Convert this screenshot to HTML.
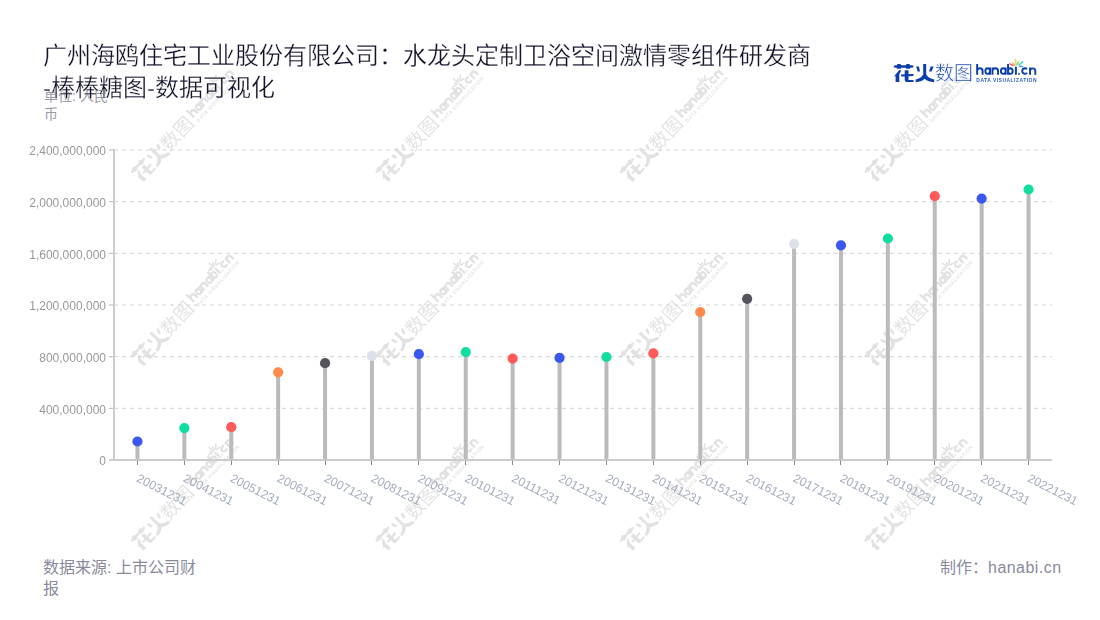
<!DOCTYPE html>
<html lang="zh-CN"><head><meta charset="utf-8">
<style>
html,body{margin:0;padding:0;background:#fff;}
body{width:1100px;height:620px;position:relative;overflow:hidden;font-family:"Liberation Sans",sans-serif;}
.t{position:absolute;white-space:nowrap;}
svg{position:absolute;left:0;top:0;}
</style></head><body>
<svg width="1100" height="620" viewBox="0 0 1100 620" style="font-family:'Liberation Sans',sans-serif">
<defs>
<g id="wm"><path d="M893.6,66.4 Q894,65.2 896,65.2 L911.5,65.2 Q913.5,65.2 913.5,66.4 Q913.5,67.7 911.5,67.7 L896,67.7 Q893.6,67.7 893.6,66.4Z" fill="#e2e2e2"/><path d="M897.3,63.9 L900.6,63.9 L901.1,68.8 L896.8,68.8Z" fill="#e2e2e2"/><path d="M906.3,63.9 L909.6,63.9 L910.1,68.8 L905.9,68.8Z" fill="#e2e2e2"/><path d="M899.3,70 L901.3,70.6 L899.3,74.3 L899.3,82 L895.6,82 L895.6,76 L893.8,76.8Z" fill="#e2e2e2"/><path d="M904.7,70.2 L908.5,70.2 L908.5,79.9 L913.5,79.9 L913.5,82 L906.7,82 Q904.7,82 904.7,80Z" fill="#e2e2e2"/><path d="M901.1,74.6 L913.5,74 L913.5,76.1 L901.1,76.6Z" fill="#e2e2e2"/><path d="M916.2,66.4 L918.9,66.4 L920,71.6 L917.6,71.6Z" fill="#e2e2e2"/><path d="M930.7,66.4 L933.6,66.4 L931.6,71.6 L929,71.6Z" fill="#e2e2e2"/><path d="M923.2,63.9 L926.2,63.9 L926.2,74.5 Q928.5,78.3 934.2,79.5 L934.2,82.2 Q928,82 924.7,78.8 Q921.3,82 915.6,82.2 L915.6,79.5 Q921,78.3 923.2,74.5Z" fill="#e2e2e2"/><text x="934.6" y="80.2" font-size="19" fill="#e4e4e4">数图</text><path d="M977.15,74.75 V64.1 M977.15,71 A2.72,2.72 0 0 1 982.6,71 V74.75 M990.05,67.5 V74.75 M990.05,71.07 A2.35,2.82 0 1 0 985.35,71.07 A2.35,2.82 0 1 0 990.05,71.07 M992.5,74.75 V67.5 M992.5,71.02 A2.77,2.77 0 0 1 998.05,71.02 V74.75 M1005.7,67.5 V74.75 M1005.7,71.07 A2.42,2.82 0 1 0 1000.85,71.07 A2.42,2.82 0 1 0 1005.7,71.07 M1008.05,64.1 V74.75 M1008.05,71.07 A2.3,2.82 0 1 1 1012.65,71.07 A2.3,2.82 0 1 1 1008.05,71.07 M1015.9,66.8 V74.75 M1027,69.2 A2.75,2.75 0 1 0 1027,72.9 M1030.05,74.75 V67.5 M1030.05,71.02 A2.62,2.62 0 0 1 1035.3,71.02 V74.75" fill="none" stroke="#e2e2e2" stroke-width="2.3"/><rect x="1018.1" y="73.2" width="1.7" height="1.55" fill="#e2e2e2"/><text x="976.3" y="81.5" font-size="5" font-weight="bold" fill="#e4e4e4" textLength="60.2" lengthAdjust="spacing">DATA VISUALIZATION</text><line x1="1009.9" y1="63.9" x2="1013" y2="65.5" stroke="#e2e2e2" stroke-width="1.6" stroke-linecap="round"/><line x1="1012.8" y1="63" x2="1014.8" y2="65.3" stroke="#e2e2e2" stroke-width="1.6" stroke-linecap="round"/><line x1="1015.5" y1="59.6" x2="1016" y2="64.1" stroke="#e2e2e2" stroke-width="1.6" stroke-linecap="round"/><line x1="1018.5" y1="61.9" x2="1016.9" y2="65" stroke="#e2e2e2" stroke-width="1.6" stroke-linecap="round"/><line x1="1022.7" y1="61.9" x2="1018.9" y2="65" stroke="#e2e2e2" stroke-width="1.6" stroke-linecap="round"/><line x1="1022.5" y1="66.6" x2="1019.4" y2="66.2" stroke="#e2e2e2" stroke-width="1.6" stroke-linecap="round"/></g>
</defs>
<filter id="bl" x="-5%" y="-5%" width="110%" height="110%"><feGaussianBlur stdDeviation="0.45"/></filter><g filter="url(#bl)"><use href="#wm" transform="translate(142.50,183.50) rotate(-47) translate(-893.6,-82)"/><use href="#wm" transform="translate(387.00,183.50) rotate(-47) translate(-893.6,-82)"/><use href="#wm" transform="translate(631.50,183.50) rotate(-47) translate(-893.6,-82)"/><use href="#wm" transform="translate(876.00,183.50) rotate(-47) translate(-893.6,-82)"/><use href="#wm" transform="translate(142.50,367.80) rotate(-47) translate(-893.6,-82)"/><use href="#wm" transform="translate(387.00,367.80) rotate(-47) translate(-893.6,-82)"/><use href="#wm" transform="translate(631.50,367.80) rotate(-47) translate(-893.6,-82)"/><use href="#wm" transform="translate(876.00,367.80) rotate(-47) translate(-893.6,-82)"/><use href="#wm" transform="translate(142.50,552.10) rotate(-47) translate(-893.6,-82)"/><use href="#wm" transform="translate(387.00,552.10) rotate(-47) translate(-893.6,-82)"/><use href="#wm" transform="translate(631.50,552.10) rotate(-47) translate(-893.6,-82)"/><use href="#wm" transform="translate(876.00,552.10) rotate(-47) translate(-893.6,-82)"/></g>
<g><line x1="114" y1="408.33" x2="1052" y2="408.33" stroke="#d4d4d4" stroke-width="1" stroke-dasharray="4 4"/><line x1="109" y1="408.33" x2="114" y2="408.33" stroke="#b8b8b8" stroke-width="1"/><line x1="114" y1="356.67" x2="1052" y2="356.67" stroke="#d4d4d4" stroke-width="1" stroke-dasharray="4 4"/><line x1="109" y1="356.67" x2="114" y2="356.67" stroke="#b8b8b8" stroke-width="1"/><line x1="114" y1="305.0" x2="1052" y2="305.0" stroke="#d4d4d4" stroke-width="1" stroke-dasharray="4 4"/><line x1="109" y1="305.0" x2="114" y2="305.0" stroke="#b8b8b8" stroke-width="1"/><line x1="114" y1="253.33" x2="1052" y2="253.33" stroke="#d4d4d4" stroke-width="1" stroke-dasharray="4 4"/><line x1="109" y1="253.33" x2="114" y2="253.33" stroke="#b8b8b8" stroke-width="1"/><line x1="114" y1="201.67" x2="1052" y2="201.67" stroke="#d4d4d4" stroke-width="1" stroke-dasharray="4 4"/><line x1="109" y1="201.67" x2="114" y2="201.67" stroke="#b8b8b8" stroke-width="1"/><line x1="114" y1="150.0" x2="1052" y2="150.0" stroke="#d4d4d4" stroke-width="1" stroke-dasharray="4 4"/><line x1="109" y1="150.0" x2="114" y2="150.0" stroke="#b8b8b8" stroke-width="1"/></g>
<line x1="114" y1="149" x2="114" y2="461" stroke="#cccccc" stroke-width="2"/>
<line x1="109" y1="460" x2="1052" y2="460" stroke="#cccccc" stroke-width="2"/>
<g fill="#999" font-size="12"><text x="106" y="465.20" text-anchor="end">0</text><text x="106" y="413.53" text-anchor="end">400,000,000</text><text x="106" y="361.87" text-anchor="end">800,000,000</text><text x="106" y="310.20" text-anchor="end">1,200,000,000</text><text x="106" y="258.53" text-anchor="end">1,600,000,000</text><text x="106" y="206.87" text-anchor="end">2,000,000,000</text><text x="106" y="155.20" text-anchor="end">2,400,000,000</text></g>
<g><line x1="137.45" y1="441.50" x2="137.45" y2="459" stroke="#bbbbbb" stroke-width="4"/><line x1="184.35" y1="428.10" x2="184.35" y2="459" stroke="#bbbbbb" stroke-width="4"/><line x1="231.25" y1="427.20" x2="231.25" y2="459" stroke="#bbbbbb" stroke-width="4"/><line x1="278.15" y1="372.35" x2="278.15" y2="459" stroke="#bbbbbb" stroke-width="4"/><line x1="325.05" y1="363.20" x2="325.05" y2="459" stroke="#bbbbbb" stroke-width="4"/><line x1="371.95" y1="355.90" x2="371.95" y2="459" stroke="#bbbbbb" stroke-width="4"/><line x1="418.85" y1="354.20" x2="418.85" y2="459" stroke="#bbbbbb" stroke-width="4"/><line x1="465.75" y1="352.10" x2="465.75" y2="459" stroke="#bbbbbb" stroke-width="4"/><line x1="512.65" y1="358.60" x2="512.65" y2="459" stroke="#bbbbbb" stroke-width="4"/><line x1="559.55" y1="357.90" x2="559.55" y2="459" stroke="#bbbbbb" stroke-width="4"/><line x1="606.45" y1="357.00" x2="606.45" y2="459" stroke="#bbbbbb" stroke-width="4"/><line x1="653.35" y1="353.40" x2="653.35" y2="459" stroke="#bbbbbb" stroke-width="4"/><line x1="700.25" y1="312.10" x2="700.25" y2="459" stroke="#bbbbbb" stroke-width="4"/><line x1="747.15" y1="298.80" x2="747.15" y2="459" stroke="#bbbbbb" stroke-width="4"/><line x1="794.05" y1="243.80" x2="794.05" y2="459" stroke="#bbbbbb" stroke-width="4"/><line x1="840.95" y1="245.30" x2="840.95" y2="459" stroke="#bbbbbb" stroke-width="4"/><line x1="887.85" y1="238.50" x2="887.85" y2="459" stroke="#bbbbbb" stroke-width="4"/><line x1="934.75" y1="196.20" x2="934.75" y2="459" stroke="#bbbbbb" stroke-width="4"/><line x1="981.65" y1="198.60" x2="981.65" y2="459" stroke="#bbbbbb" stroke-width="4"/><line x1="1028.55" y1="189.50" x2="1028.55" y2="459" stroke="#bbbbbb" stroke-width="4"/></g>
<g><circle cx="137.45" cy="441.50" r="5.1" fill="#3a57ee"/><circle cx="184.35" cy="428.10" r="5.1" fill="#10dea0"/><circle cx="231.25" cy="427.20" r="5.1" fill="#ff5a5a"/><circle cx="278.15" cy="372.35" r="5.1" fill="#ff8a4c"/><circle cx="325.05" cy="363.20" r="5.1" fill="#54545e"/><circle cx="371.95" cy="355.90" r="5.1" fill="#dde1ea"/><circle cx="418.85" cy="354.20" r="5.1" fill="#3a57ee"/><circle cx="465.75" cy="352.10" r="5.1" fill="#10dea0"/><circle cx="512.65" cy="358.60" r="5.1" fill="#ff5a5a"/><circle cx="559.55" cy="357.90" r="5.1" fill="#3a57ee"/><circle cx="606.45" cy="357.00" r="5.1" fill="#10dea0"/><circle cx="653.35" cy="353.40" r="5.1" fill="#ff5a5a"/><circle cx="700.25" cy="312.10" r="5.1" fill="#ff8a4c"/><circle cx="747.15" cy="298.80" r="5.1" fill="#54545e"/><circle cx="794.05" cy="243.80" r="5.1" fill="#dde1ea"/><circle cx="840.95" cy="245.30" r="5.1" fill="#3a57ee"/><circle cx="887.85" cy="238.50" r="5.1" fill="#10dea0"/><circle cx="934.75" cy="196.20" r="5.1" fill="#ff5a5a"/><circle cx="981.65" cy="198.60" r="5.1" fill="#3a57ee"/><circle cx="1028.55" cy="189.50" r="5.1" fill="#10dea0"/></g>
<g><line x1="137.5" y1="460.5" x2="137.5" y2="465" stroke="#8a8a8a" stroke-width="1"/><line x1="184.5" y1="460.5" x2="184.5" y2="465" stroke="#8a8a8a" stroke-width="1"/><line x1="231.5" y1="460.5" x2="231.5" y2="465" stroke="#8a8a8a" stroke-width="1"/><line x1="278.5" y1="460.5" x2="278.5" y2="465" stroke="#8a8a8a" stroke-width="1"/><line x1="325.5" y1="460.5" x2="325.5" y2="465" stroke="#8a8a8a" stroke-width="1"/><line x1="371.5" y1="460.5" x2="371.5" y2="465" stroke="#8a8a8a" stroke-width="1"/><line x1="418.5" y1="460.5" x2="418.5" y2="465" stroke="#8a8a8a" stroke-width="1"/><line x1="465.5" y1="460.5" x2="465.5" y2="465" stroke="#8a8a8a" stroke-width="1"/><line x1="512.5" y1="460.5" x2="512.5" y2="465" stroke="#8a8a8a" stroke-width="1"/><line x1="559.5" y1="460.5" x2="559.5" y2="465" stroke="#8a8a8a" stroke-width="1"/><line x1="606.5" y1="460.5" x2="606.5" y2="465" stroke="#8a8a8a" stroke-width="1"/><line x1="653.5" y1="460.5" x2="653.5" y2="465" stroke="#8a8a8a" stroke-width="1"/><line x1="700.5" y1="460.5" x2="700.5" y2="465" stroke="#8a8a8a" stroke-width="1"/><line x1="747.5" y1="460.5" x2="747.5" y2="465" stroke="#8a8a8a" stroke-width="1"/><line x1="794.5" y1="460.5" x2="794.5" y2="465" stroke="#8a8a8a" stroke-width="1"/><line x1="840.5" y1="460.5" x2="840.5" y2="465" stroke="#8a8a8a" stroke-width="1"/><line x1="887.5" y1="460.5" x2="887.5" y2="465" stroke="#8a8a8a" stroke-width="1"/><line x1="934.5" y1="460.5" x2="934.5" y2="465" stroke="#8a8a8a" stroke-width="1"/><line x1="981.5" y1="460.5" x2="981.5" y2="465" stroke="#8a8a8a" stroke-width="1"/><line x1="1028.5" y1="460.5" x2="1028.5" y2="465" stroke="#8a8a8a" stroke-width="1"/></g>
<g fill="#a4acbf" font-size="12.2"><text transform="translate(135.65,481) rotate(27)">20031231</text><text transform="translate(182.55,481) rotate(27)">20041231</text><text transform="translate(229.45,481) rotate(27)">20051231</text><text transform="translate(276.35,481) rotate(27)">20061231</text><text transform="translate(323.25,481) rotate(27)">20071231</text><text transform="translate(370.15,481) rotate(27)">20081231</text><text transform="translate(417.05,481) rotate(27)">20091231</text><text transform="translate(463.95,481) rotate(27)">20101231</text><text transform="translate(510.85,481) rotate(27)">20111231</text><text transform="translate(557.75,481) rotate(27)">20121231</text><text transform="translate(604.65,481) rotate(27)">20131231</text><text transform="translate(651.55,481) rotate(27)">20141231</text><text transform="translate(698.45,481) rotate(27)">20151231</text><text transform="translate(745.35,481) rotate(27)">20161231</text><text transform="translate(792.25,481) rotate(27)">20171231</text><text transform="translate(839.15,481) rotate(27)">20181231</text><text transform="translate(886.05,481) rotate(27)">20191231</text><text transform="translate(932.95,481) rotate(27)">20201231</text><text transform="translate(979.85,481) rotate(27)">20211231</text><text transform="translate(1026.75,481) rotate(27)">20221231</text></g>
<path d="M893.6,66.4 Q894,65.2 896,65.2 L911.5,65.2 Q913.5,65.2 913.5,66.4 Q913.5,67.7 911.5,67.7 L896,67.7 Q893.6,67.7 893.6,66.4Z" fill="#0c3fae"/><path d="M897.3,63.9 L900.6,63.9 L901.1,68.8 L896.8,68.8Z" fill="#0c3fae"/><path d="M906.3,63.9 L909.6,63.9 L910.1,68.8 L905.9,68.8Z" fill="#0c3fae"/><path d="M899.3,70 L901.3,70.6 L899.3,74.3 L899.3,82 L895.6,82 L895.6,76 L893.8,76.8Z" fill="#0c3fae"/><path d="M904.7,70.2 L908.5,70.2 L908.5,79.9 L913.5,79.9 L913.5,82 L906.7,82 Q904.7,82 904.7,80Z" fill="#0c3fae"/><path d="M901.1,74.6 L913.5,74 L913.5,76.1 L901.1,76.6Z" fill="#0c3fae"/><path d="M916.2,66.4 L918.9,66.4 L920,71.6 L917.6,71.6Z" fill="#0c3fae"/><path d="M930.7,66.4 L933.6,66.4 L931.6,71.6 L929,71.6Z" fill="#0c3fae"/><path d="M923.2,63.9 L926.2,63.9 L926.2,74.5 Q928.5,78.3 934.2,79.5 L934.2,82.2 Q928,82 924.7,78.8 Q921.3,82 915.6,82.2 L915.6,79.5 Q921,78.3 923.2,74.5Z" fill="#0c3fae"/><text x="934.6" y="80.2" font-size="19" fill="#0c3fae" stroke="#fff" stroke-width="0.45" style="paint-order:fill stroke">数图</text><path d="M977.15,74.75 V64.1 M977.15,71 A2.72,2.72 0 0 1 982.6,71 V74.75 M990.05,67.5 V74.75 M990.05,71.07 A2.35,2.82 0 1 0 985.35,71.07 A2.35,2.82 0 1 0 990.05,71.07 M992.5,74.75 V67.5 M992.5,71.02 A2.77,2.77 0 0 1 998.05,71.02 V74.75 M1005.7,67.5 V74.75 M1005.7,71.07 A2.42,2.82 0 1 0 1000.85,71.07 A2.42,2.82 0 1 0 1005.7,71.07 M1008.05,64.1 V74.75 M1008.05,71.07 A2.3,2.82 0 1 1 1012.65,71.07 A2.3,2.82 0 1 1 1008.05,71.07 M1015.9,66.8 V74.75 M1027,69.2 A2.75,2.75 0 1 0 1027,72.9 M1030.05,74.75 V67.5 M1030.05,71.02 A2.62,2.62 0 0 1 1035.3,71.02 V74.75" fill="none" stroke="#0c3fae" stroke-width="1.95"/><rect x="1018.1" y="73.2" width="1.7" height="1.55" fill="#0c3fae"/><text x="976.3" y="81.5" font-size="5" font-weight="bold" fill="#2f5fc0" textLength="60.2" lengthAdjust="spacing">DATA VISUALIZATION</text><line x1="1009.9" y1="63.9" x2="1013" y2="65.5" stroke="#ff5b6e" stroke-width="1.6" stroke-linecap="round"/><line x1="1012.8" y1="63" x2="1014.8" y2="65.3" stroke="#ffa586" stroke-width="1.6" stroke-linecap="round"/><line x1="1015.5" y1="59.6" x2="1016" y2="64.1" stroke="#f2d55a" stroke-width="1.6" stroke-linecap="round"/><line x1="1018.5" y1="61.9" x2="1016.9" y2="65" stroke="#8fe070" stroke-width="1.6" stroke-linecap="round"/><line x1="1022.7" y1="61.9" x2="1018.9" y2="65" stroke="#3fdcd0" stroke-width="1.6" stroke-linecap="round"/><line x1="1022.5" y1="66.6" x2="1019.4" y2="66.2" stroke="#5aa4f2" stroke-width="1.6" stroke-linecap="round"/>
</svg>
<div class="t" style="left:44px;top:86.5px;width:70px;white-space:normal;font-size:14px;line-height:18px;color:#9a9aab">单位: 人民币</div>
<div class="t" style="left:43px;top:39.5px;font-size:24px;line-height:32px;color:#12122a;-webkit-text-stroke:0.28px #fff;paint-order:fill stroke">广州海鸥住宅工业股份有限公司：水龙头定制卫浴空间激情零组件研发商<br>-棒棒糖图-数据可视化</div>
<div class="t" style="left:43px;top:557px;width:160px;white-space:normal;font-size:16px;line-height:21px;color:#8a8a9e">数据来源: 上市公司财报</div>
<div class="t" style="right:38.5px;top:556.5px;font-size:16px;line-height:21px;color:#8a8a9e">制作：<span style="letter-spacing:0.45px">hanabi.cn</span></div>
</body></html>
